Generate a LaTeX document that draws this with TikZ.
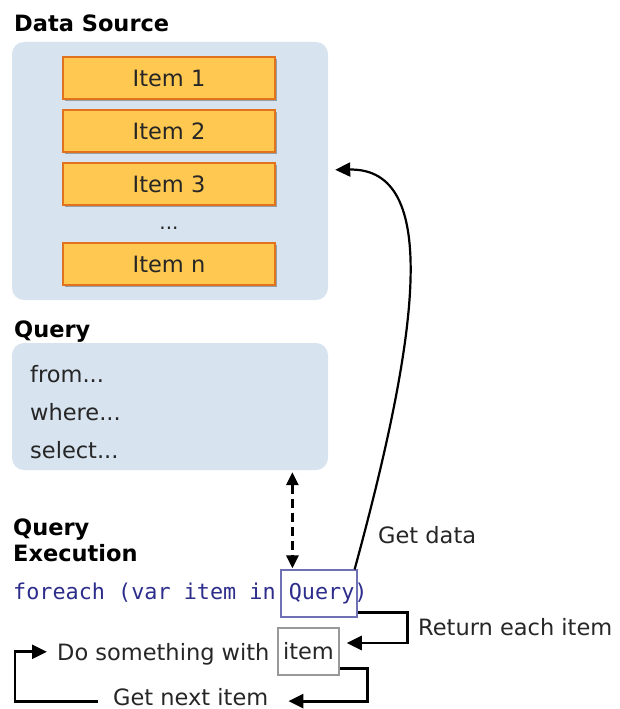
\documentclass[tikz,border=0pt]{standalone}
\usepackage{fontspec}
\setmainfont{DejaVu Sans}
\setmonofont{DejaVu Sans Mono}
\usepackage{xcolor}
\usetikzlibrary{arrows.meta,calc,shadows}

\definecolor{panelblue}{RGB}{215,227,239}
\definecolor{itemfill}{RGB}{255,200,80}
\definecolor{itemedge}{RGB}{225,115,30}
\definecolor{qframe}{RGB}{112,112,180}
\definecolor{codeblue}{RGB}{45,45,140}

\tikzset{
  heading/.style={font=\fontsize{22.5}{27}\selectfont\bfseries, anchor=base west, inner sep=0pt},
  plain/.style={font=\fontsize{22.5}{27}\selectfont, anchor=base west, inner sep=0pt, text=black!85},
  code/.style={font=\fontsize{21.8}{26}\selectfont\ttfamily, anchor=base west, inner sep=0pt, text=codeblue},
  panel/.style={fill=panelblue, rounded corners=12pt, minimum width=316pt, inner sep=0pt},
  itembox/.style={fill=itemfill, draw=itemedge, line width=1.5pt, minimum width=212pt,
    minimum height=42pt, inner sep=0pt, text=black!85, font=\fontsize{22.5}{27}\selectfont,
    drop shadow={shadow xshift=2pt, shadow yshift=-2pt, opacity=0.3, fill=black}},
  conn/.style={line width=2.8pt, -{Triangle[length=15pt,width=14pt]}},
  dconn/.style={line width=2.8pt, dash pattern=on 9pt off 5pt,
    {Triangle[length=13pt,width=12pt]}-{Triangle[length=13pt,width=12pt]}}
}

\begin{document}
\begin{tikzpicture}[x=1pt,y=-1pt]
  \useasboundingbox (0,0) rectangle (619,709);

  \node[heading] (dshead) at (14,32) {Data Source};
  \node[panel, minimum height=258pt] (ds) at (170,171) {};
  \foreach \i/\y in {1/78,2/131,3/184,n/264} {
    \node[itembox] (item\i) at (169,\y) {Item \i};
  }
  \node[plain, anchor=base, font=\fontsize{20}{24}\selectfont] (dots) at (169,229) {...};

  \node[heading] (qhead) at (14,337) {Query};
  \node[panel, minimum height=127pt] (query) at (170,406.5) {};
  \foreach \n/\y in {from/382,where/420,select/458} {
    \node[plain] (\n) at (30,\y) {\n...};
  }

  \node[heading] (qexec1) at (13,535) {Query};
  \node[heading] (qexec2) at (13,561) {Execution};
  \node[code] (loop) at (13,599) {foreach (var item in Query)};
  \node[draw=qframe, line width=1.2pt, minimum width=76pt, minimum height=47pt, inner sep=0pt] (qbox) at (319,593.5) {};

  \node[plain] (dosome) at (57,660) {Do something with};
  \node[draw=black!40, line width=1.5pt, minimum width=61pt, minimum height=47pt, inner sep=0pt,
    font=\fontsize{22.5}{27}\selectfont, text=black!85] (itembx) at (308.5,651.5) {item};
  \node[plain] (getnext) at (113,705) {Get next item};
  \node[plain] (getdata) at (378,543) {Get data};
  \node[plain] (retitem) at (418,635) {Return each item};

  \coordinate (dq) at ($(qbox.north west)+(12,0)$);
  \draw[dconn, shorten <=2pt, shorten >=1pt] (dq |- query.south) -- (dq);

  \coordinate (dsin) at ($(ds.north east)+(7,128)$);
  \draw[conn, line width=2.2pt] ($(qbox.north east)+(-3,0)$) .. controls (420,330) and (440,168) .. (dsin);

  \draw[conn] ($(qbox.south east)+(0,-5)$) -- ++(50,0) |- ($(itembx.east)+(7,-8.5)$);
  \draw[conn] ($(itembx.south east)+(0,-7)$) -- ++(28,0) |- ($(getnext.east)+(20,4.5)$);
  \draw[conn] ($(getnext.west)+(-15,4.5)$) -- ++(-83,0) |- ($(dosome.west)+(-10,-2)$);
\end{tikzpicture}
\end{document}
